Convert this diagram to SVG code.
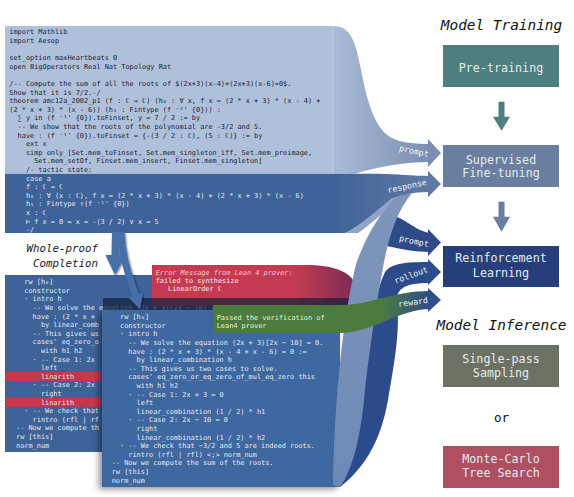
<svg xmlns="http://www.w3.org/2000/svg" width="574" height="497" viewBox="0 0 574 497">
<style>
.code{font-family:"DejaVu Sans Mono","Liberation Mono",monospace;font-size:6.9px}
.ink{fill:#1c2333}
.wt{fill:#e2e9f3}
.lbl{font-family:"DejaVu Sans Mono","Liberation Mono",monospace;font-size:8.3px;fill:#eef2f8;text-anchor:middle}
.box{font-family:"DejaVu Sans Mono","Liberation Mono",monospace;font-size:11.7px;fill:#e3ecee;text-anchor:middle}
.ttl{font-family:"DejaVu Sans Mono","Liberation Mono",monospace;font-size:14.4px;font-style:italic;fill:#111;text-anchor:middle}
.wp{font-family:"DejaVu Sans Mono","Liberation Mono",monospace;font-size:10.8px;font-style:italic;fill:#1a1a1a;text-anchor:end}
</style>
<defs>
<linearGradient id="gL" gradientUnits="userSpaceOnUse" x1="333" y1="0" x2="430" y2="0"><stop offset="0" stop-color="#a9bcd7"/><stop offset="1" stop-color="#7a8eb1"/></linearGradient>
<linearGradient id="gD" gradientUnits="userSpaceOnUse" x1="333" y1="0" x2="430" y2="0"><stop offset="0" stop-color="#3e6399"/><stop offset="1" stop-color="#6079a3"/></linearGradient>
<linearGradient id="gG" gradientUnits="userSpaceOnUse" x1="380" y1="0" x2="428" y2="0"><stop offset="0" stop-color="#4c7c3d"/><stop offset="1" stop-color="#2f4f86"/></linearGradient>
<linearGradient id="gR" gradientUnits="userSpaceOnUse" x1="295" y1="0" x2="356" y2="0"><stop offset="0" stop-color="#c43a51"/><stop offset="1" stop-color="#7b2c55"/></linearGradient>
<linearGradient id="gB" gradientUnits="userSpaceOnUse" x1="0" y1="195" x2="0" y2="487"><stop offset="0" stop-color="#8096ba"/><stop offset="1" stop-color="#6c89b8"/></linearGradient>
<filter id="sh" x="-10%" y="-10%" width="120%" height="120%"><feDropShadow dx="-3" dy="2" stdDeviation="3" flood-color="#000" flood-opacity="0.45"/></filter>
<filter id="ash" x="-50%" y="-20%" width="200%" height="140%"><feDropShadow dx="1" dy="1" stdDeviation="1.2" flood-color="#0b1630" flood-opacity="0.6"/></filter>
</defs>
<rect width="574" height="497" fill="#fff"/>

<g id="connectors">
<path d="M333,26 C350,26 355,40 360,65 C366,95 372,125 390,137 C400,143 415,144 430,144 L430,162 C405,162 380,166 355,173.8 L333,173.8 Z" fill="url(#gL)"/>
<path d="M333,173.8 L378,173.8 C398,174 412,176 430,176 L430,192 C412,192 400,195 388,203 C372,214 358,228 345,233 L333,233 Z" fill="url(#gD)"/>
<path d="M345,233 C360,226 376,211 392,198 L404,195 C390,207 374,222 358,233 Z" fill="#8ea3c5"/>
<path d="M384,214 C402,214 414,231 430,233 L430,252 C415,252 402,249 386,246 Z" fill="#2f4b87"/>
</g>

<g id="code-prompt">
<rect x="5" y="26" width="328" height="147.8" fill="#afc1da"/>
<line x1="333" y1="26" x2="333" y2="173.8" stroke="#c7d4e6" stroke-width="0.8"/>
<rect x="5" y="173.8" width="328" height="59.2" fill="#3e6399"/>
<text class="code ink">
<tspan x="9.3" y="34.4">import Mathlib</tspan>
<tspan x="9.3" y="43">import Aesop</tspan>
<tspan x="9.3" y="60.2">set_option maxHeartbeats 0</tspan>
<tspan x="9.3" y="68.8">open BigOperators Real Nat Topology Rat</tspan>
<tspan x="9.3" y="86">/-- Compute the sum of all the roots of $(2x+3)(x-4)+(2x+3)(x-6)=0$.</tspan>
<tspan x="9.3" y="94.6">Show that it is 7/2.-/</tspan>
<tspan x="9.3" y="103.2">theorem amc12a_2002_p1 (f : ℂ → ℂ) (h₀ : ∀ x, f x = (2 * x + 3) * (x - 4) +</tspan>
<tspan x="9.3" y="111.8">(2 * x + 3) * (x - 6)) (h₁ : Fintype (f ⁻¹' {0})) :</tspan>
<tspan x="17.6" y="120.4">∑ y in (f ⁻¹' {0}).toFinset, y = 7 / 2 := by</tspan>
<tspan x="17.6" y="129">-- We show that the roots of the polynomial are -3/2 and 5.</tspan>
<tspan x="17.6" y="137.6">have : (f ⁻¹' {0}).toFinset = {-(3 / 2 : ℂ), (5 : ℂ)} := by</tspan>
<tspan x="25.9" y="146.2">ext x</tspan>
<tspan x="25.9" y="154.8">simp only [Set.mem_toFinset, Set.mem_singleton_iff, Set.mem_preimage,</tspan>
<tspan x="34.2" y="163.4">Set.mem_setOf, Finset.mem_insert, Finset.mem_singleton]</tspan>
<tspan x="25.9" y="172">/- tactic state:</tspan>
</text>
<text class="code wt">
<tspan x="25.9" y="180.6">case a</tspan>
<tspan x="25.9" y="189.2">f : ℂ → ℂ</tspan>
<tspan x="25.9" y="197.8">h₀ : ∀ (x : ℂ), f x = (2 * x + 3) * (x - 4) + (2 * x + 3) * (x - 6)</tspan>
<tspan x="25.9" y="206.4">h₁ : Fintype ↑(f ⁻¹' {0})</tspan>
<tspan x="25.9" y="215">x : ℂ</tspan>
<tspan x="25.9" y="223.6">⊢ f x = 0 ↔ x = -(3 / 2) ∨ x = 5</tspan>
<tspan x="25.9" y="232.2">-/</tspan>
</text>
</g>

<g id="label-whole-proof">
<text class="wp" x="98" y="252">Whole-proof</text>
<text class="wp" x="98" y="267">Completion</text>
</g>

<g id="code-failed">
<rect x="5" y="275" width="238" height="177" fill="#3d6399"/>
<rect x="5" y="371.5" width="97" height="9.5" fill="#c8364c"/>
<rect x="5" y="397.3" width="97" height="9.5" fill="#c8364c"/>
<text class="code wt">
<tspan x="24.3" y="284.1">rw [h₀]</tspan>
<tspan x="24.3" y="292.7">constructor</tspan>
<tspan x="24.3" y="301.3">· intro h</tspan>
<tspan x="32.6" y="309.9">-- We solve the equation (2x + 3)[2x − 10] = 0.</tspan>
<tspan x="32.6" y="318.5">have : (2 * x +</tspan>
<tspan x="40.9" y="327.1">by linear_comb</tspan>
<tspan x="32.6" y="335.7">-- This gives us</tspan>
<tspan x="32.6" y="344.3">cases' eq_zero_o</tspan>
<tspan x="40.9" y="352.9">with h1 h2</tspan>
<tspan x="32.6" y="361.5">· -- Case 1: 2x</tspan>
<tspan x="40.9" y="370.1">left</tspan>
<tspan x="40.9" y="378.7">linarith</tspan>
<tspan x="32.6" y="387.3">· -- Case 2: 2x</tspan>
<tspan x="40.9" y="395.9">right</tspan>
<tspan x="40.9" y="404.5">linarith</tspan>
<tspan x="24.3" y="413.1">· -- We check that</tspan>
<tspan x="32.6" y="421.7">rintro (rfl | rf</tspan>
<tspan x="16" y="430.3">-- Now we compute th</tspan>
<tspan x="16" y="438.9">rw [this]</tspan>
<tspan x="16" y="447.5">norm_num</tspan>
</text>
</g>

<g id="error-message">
<path d="M152,265 L300,265 C330,264 350,270 356,285 L356,306 L152,306 Z" fill="url(#gR)"/>
<text class="code" x="155.7" y="274.7" font-style="italic" fill="#f7c9d1">Error Message from Lean 4 prover:</text>
<text class="code" x="155.7" y="283" fill="#f4f0f2">failed to synthesize</text>
<text class="code" x="168" y="291.3" fill="#f4f0f2">LinearOrder ℂ</text>
</g>
<rect x="103" y="298" width="252" height="12" fill="#13203c" opacity="0.7"/>

<g id="completion-arrows" fill="#4770a9" filter="url(#ash)">
<path d="M116,232 L115.5,257" stroke="#4770a9" stroke-width="8" fill="none"/>
<polygon points="105.5,255 125.5,255 115,275"/>
<path d="M121,232 C122,258 130,278 135.5,296" stroke="#4770a9" stroke-width="7" fill="none"/>
<polygon points="142.7,292.8 128.3,297.3 140,309.3"/>
</g>

<g id="flow-rollout">
<path d="M340,487 C362,470 380,445 388,400 C395,360 400,330 397,305 C395,290 402,283 430,283 L430,262 C405,262 392,263 385,272 C376,290 370,330 366,370 C362,420 352,460 333,480 Z" fill="#2c4b8b"/>
</g>

<g id="code-passed">
<rect x="102" y="310" width="238" height="177" fill="#4068a0" filter="url(#sh)"/>
<text class="code wt">
<tspan x="120" y="319.1">rw [h₀]</tspan>
<tspan x="120" y="327.7">constructor</tspan>
<tspan x="120" y="336.3">· intro h</tspan>
<tspan x="128.3" y="344.9">-- We solve the equation (2x + 3)[2x − 10] = 0.</tspan>
<tspan x="128.3" y="353.5">have : (2 * x + 3) * (x - 4 + x - 6) = 0 :=</tspan>
<tspan x="136.6" y="362.1">by linear_combination h</tspan>
<tspan x="128.3" y="370.7">-- This gives us two cases to solve.</tspan>
<tspan x="128.3" y="379.3">cases' eq_zero_or_eq_zero_of_mul_eq_zero this</tspan>
<tspan x="136.6" y="387.9">with h1 h2</tspan>
<tspan x="128.3" y="396.5">· -- Case 1: 2x + 3 = 0</tspan>
<tspan x="136.6" y="405.1">left</tspan>
<tspan x="136.6" y="413.7">linear_combination (1 / 2) * h1</tspan>
<tspan x="128.3" y="422.3">· -- Case 2: 2x − 10 = 0</tspan>
<tspan x="136.6" y="430.9">right</tspan>
<tspan x="136.6" y="439.5">linear_combination (1 / 2) * h2</tspan>
<tspan x="120" y="448.1">· -- We check that −3/2 and 5 are indeed roots.</tspan>
<tspan x="128.3" y="456.7">rintro (rfl | rfl) &lt;;&gt; norm_num</tspan>
<tspan x="111.7" y="465.3">-- Now we compute the sum of the roots.</tspan>
<tspan x="111.7" y="473.9">rw [this]</tspan>
<tspan x="111.7" y="482.5">norm_num</tspan>
</text>
</g>

<g id="flow-response-2">
<path d="M333,485 C334,420 340,330 356,264 C366,236 380,212 398,196 L412,193 C398,210 390,232 384,262 C376,305 368,360 364,400 C360,440 352,470 340,487 Z" fill="url(#gB)"/>
</g>

<g id="passed-message">
<path d="M213,305 L340,305 C372,305 392,291 430,291 L430,309 C400,309 372,333 340,333 L213,333 Z" fill="url(#gG)"/>
<text class="code" x="216.7" y="319.7" fill="#e8f0dc">Passed the verification of</text>
<text class="code" x="216.7" y="328.1" fill="#e8f0dc">Lean4 prover</text>
</g>

<g id="arrowheads">
<polygon points="428,139 441,153 428,167" fill="#7a8eb1"/>
<polygon points="428,171 441,184 428,197" fill="#6079a3"/>
<polygon points="428,229 441,242.5 428,256" fill="#2f4b87"/>
<polygon points="428,259 441,272 428,285" fill="#2c4b8b"/>
<polygon points="428,288 441,300 428,312" fill="#2f4f86"/>
<text class="lbl" transform="translate(414,151) rotate(12)" dy="3">prompt</text>
<text class="lbl" transform="translate(407,186) rotate(-12)" dy="3">response</text>
<text class="lbl" transform="translate(414,241) rotate(12)" dy="3">prompt</text>
<text class="lbl" transform="translate(411,275) rotate(-20)" dy="3">rollout</text>
<text class="lbl" transform="translate(413,302) rotate(-8)" dy="3">reward</text>
</g>

<g id="title-training"><text class="ttl" x="501.5" y="30">Model Training</text></g>
<g id="pre-training">
<rect x="443" y="45" width="116" height="42" fill="#4d7f80"/>
<text class="box" x="501" y="72.3">Pre-training</text>
</g>
<g id="arrow-pt-sft"><polygon points="498.5,101.7 504.5,101.7 504.5,116.7 510,116.7 501.5,130.7 493,116.7 498.5,116.7" fill="#4d7f80"/></g>
<g id="sft">
<rect x="443" y="145" width="116" height="42" fill="#697ea0"/>
<text class="box" x="501" y="164">Supervised</text>
<text class="box" x="501" y="177.3">Fine-tuning</text>
</g>
<g id="arrow-sft-rl"><polygon points="498.5,201.7 504.5,201.7 504.5,216.7 510,216.7 501.5,231.7 493,216.7 498.5,216.7" fill="#697ea0"/></g>
<g id="rl">
<rect x="443" y="246" width="116" height="41" fill="#263f7a"/>
<text class="box" x="501" y="262.3">Reinforcement</text>
<text class="box" x="501" y="276.7">Learning</text>
</g>
<g id="title-inference"><text class="ttl" x="501.5" y="330">Model Inference</text></g>
<g id="single-pass">
<rect x="443" y="345" width="116" height="42" fill="#6b7163"/>
<text class="box" x="501" y="363.3">Single-pass</text>
<text class="box" x="501" y="376.7">Sampling</text>
</g>
<g id="or"><text x="501.5" y="422" font-family="DejaVu Sans Mono, Liberation Mono, monospace" font-size="12.5" fill="#111" text-anchor="middle">or</text></g>
<g id="mcts">
<rect x="443" y="446" width="116" height="42" fill="#b04f62"/>
<text class="box" x="501" y="463.3">Monte-Carlo</text>
<text class="box" x="501" y="476.7">Tree Search</text>
</g>
</svg>
